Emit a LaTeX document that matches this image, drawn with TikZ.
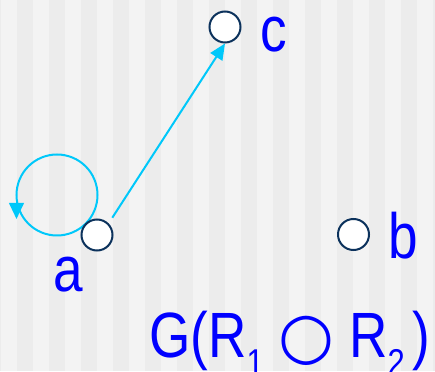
\documentclass[tikz,border=0pt]{standalone}
\usepackage{fontspec}
\setmainfont{Liberation Sans}[FakeStretch=0.83]
\newfontfamily\circfont{DejaVu Sans}
\usetikzlibrary{arrows.meta,calc,decorations.markings}

\definecolor{stripelight}{RGB}{243,243,243}
\definecolor{stripedark}{RGB}{236,236,236}
\definecolor{vertexline}{RGB}{12,50,92}
\definecolor{linkline}{RGB}{0,200,250}
\definecolor{labelblue}{RGB}{0,0,255}

\newcommand{\lowidx}[1]{\raisebox{-13.5pt}{\fontsize{28}{30}\selectfont #1}}

\pgfdeclarelayer{back}
\pgfdeclarelayer{loops}
\pgfsetlayers{back,loops,main}

\begin{document}
\begin{tikzpicture}[x=0.75pt, y=0.75pt,
    vertex/.style={circle, draw=vertexline, fill=white, line width=1.5pt, minimum size=23.25pt, inner sep=0pt},
    link/.style={draw=linkline, line width=1.5pt, -{Triangle[length=12pt,width=10.5pt]}},
    vlabel/.style={text=labelblue, anchor=base west, inner sep=0pt, font=\fontsize{48}{56}\selectfont}]
      % striped backdrop
      \useasboundingbox (0,0) rectangle (435,371);
      \begin{pgfonlayer}{back}
        \fill[stripelight] (0,0) rectangle (435,371);
        \foreach \x in {-15,17,...,433}
          \fill[stripedark] (\x,0) rectangle (\x+16,371);
      \end{pgfonlayer}
      % vertices
      \node[vertex] (a) at (97,136) {};
      \node[vertex] (b) at (353.5,136.5) {};
      \node[vertex] (c) at (225,344) {};
      % vertex names
      \node[vlabel] (alabel) at (53,79.5) {a};
      \node[vlabel] (blabel) at (388,112) {b};
      \node[vlabel] (clabel) at (260,319) {c};
      % graph name
      \node[vlabel] (gname) at (149,14) {G(R\lowidx{1} {\circfont ○} R\lowidx{2}\kern6pt)};
      % edge a -> c
      \draw[link, shorten <=5pt] (a.45) -- (c.south);
      % loop on a, kept behind the vertex
      \begin{pgfonlayer}{loops}
        \draw[draw=linkline, line width=1.5pt, postaction={decorate},
          decoration={markings, mark=at position 0.5 with {\arrow[xshift=18pt]{Triangle[length=12pt,width=11pt]}}}]
          ($(a)+(-40,40)$) circle[radius=40.5];
      \end{pgfonlayer}
\end{tikzpicture}
\end{document}
